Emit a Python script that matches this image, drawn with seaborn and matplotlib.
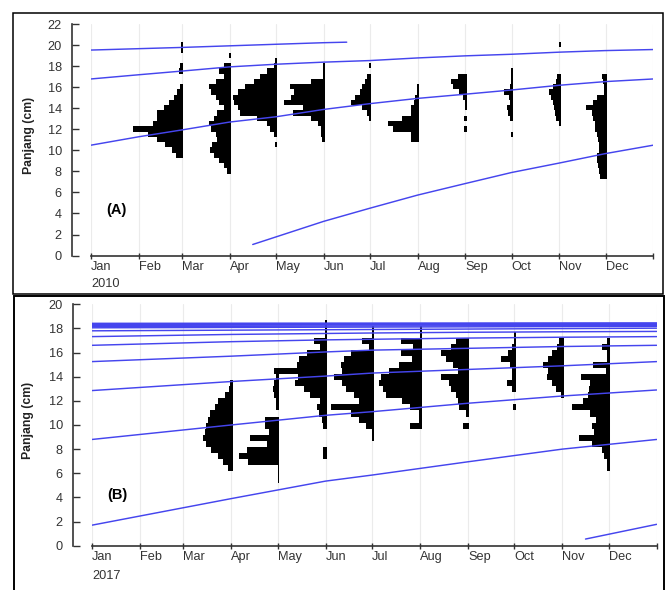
import numpy as np
import pandas as pd
import matplotlib
matplotlib.use("Agg")
import matplotlib.pyplot as plt
from matplotlib.patches import Rectangle
import seaborn as sns

# -----------------------------
# Setup
# -----------------------------
sns.set_theme(style="white")
plt.rcParams["font.family"] = ["Liberation Sans", "DejaVu Sans"]

BLUE = "#4545ee"
INK = "#333333"

MONTHS = ["Jan", "Feb", "Mar", "Apr", "May", "Jun", "Jul", "Aug", "Sep", "Oct", "Nov", "Dec", ""]
MONTH_START = [0, 31, 59, 90, 120, 151, 181, 212, 243, 273, 304, 334, 365]

BIN = 0.5                # length class width (cm)
DAYS_PER_SCORE = 0.647   # bar score -> days on the time axis

# -----------------------------
# Panel A (2010) samples: sample day, lowest class, scores going up in 0.5 cm
# -----------------------------
A_DAYS = [60, 91, 121, 152, 182, 213, 244, 274, 305, 335]
A_START = [9.3, 7.8, 10.3, 10.8, 12.8, 10.8, 11.8, 11.3, 12.3, 7.3]
A_MAR = [7, 11, 18, 26, 36, 51, 31, 26, 26, 19, 14, 9, 6, 3, 0, 0, 4, 3, 0, 0, 2, 2]
A_APR = [4, 7, 12, 17, 21, 19, 14, 15, 20, 22, 17, 14, 7, 12, 15, 20, 22, 15, 7, 12, 7, 0, 2]
A_MAY = [2, 0, 3, 7, 10, 20, 38, 40, 44, 45, 40, 32, 23, 17, 10, 3, 2]
A_JUN = [3, 4, 4, 7, 14, 32, 22, 41, 34, 31, 35, 14, 2, 2, 2]
A_JUL = [2, 4, 9, 20, 16, 11, 9, 6, 4, 0, 2]
A_AUG = [8, 8, 26, 31, 17, 8, 8, 5, 4, 2, 2]
A_SEP = [3, 0, 3, 0, 2, 2, 4, 8, 14, 16, 9]
A_OCT = [2, 0, 0, 3, 5, 6, 3, 4, 9, 3, 2, 2, 2]
A_NOV = [2, 5, 6, 7, 8, 10, 12, 8, 5, 4, 0, 0, 0, 0, 0, 2]
A_DEC = [7, 8, 9, 10, 10, 8, 8, 9, 10, 12, 12, 14, 15, 21, 14, 10, 3, 3, 4, 5]
A_SCORES = [A_MAR, A_APR, A_MAY, A_JUN, A_JUL, A_AUG, A_SEP, A_OCT, A_NOV, A_DEC]

# growth curves
A_C1_DAYS = [0, 59, 120, 151, 166]
A_C1_LEN = [19.55, 19.8, 20.1, 20.25, 20.3]
A_C2_LEN = [16.8, 17.2, 17.55, 17.95, 18.2, 18.4, 18.55, 18.8, 19.0, 19.15, 19.35, 19.5, 19.6]
A_C3_LEN = [10.5, 11.3, 11.95, 12.7, 13.2, 13.9, 14.45, 14.95, 15.35, 15.75, 16.2, 16.55, 16.8]
A_C4_DAYS = [105, 151, 181, 212, 243, 273, 304, 334, 365]
A_C4_LEN = [1.05, 3.25, 4.5, 5.75, 6.85, 7.9, 8.8, 9.7, 10.5]

# -----------------------------
# Panel B (2017) samples
# -----------------------------
B_DAYS = [91, 121, 152, 182, 213, 244, 274, 305, 335]
B_START = [6.2, 5.2, 7.2, 8.7, 9.7, 9.7, 11.2, 12.2, 6.2]
B_APR = [5, 10, 15, 22, 27, 30, 28, 27, 25, 23, 18, 15, 8, 4, 3]
B_MAY = [1.5, 1.5, 1.5, 31, 40, 32, 12, 29, 10, 14, 14, 0, 3, 3, 5, 6, 5, 3, 2]
B_JUN = [4, 4, 0, 0, 0, 4, 5, 8, 10, 7, 17, 23, 32, 29, 53, 30, 28, 20, 7, 13, 2, 2, 2]
B_JUL = [2, 2, 8, 15, 23, 43, 15, 20, 28, 32, 40, 32, 33, 30, 23, 5, 12, 2, 2]
B_AUG = [12, 3, 3, 12, 19, 35, 38, 42, 40, 32, 22, 10, 20, 9, 20, 2, 2]
B_SEP = [6, 0, 3, 10, 11, 13, 18, 20, 28, 11, 16, 23, 28, 18, 13]
B_OCT = [3, 0, 0, 4, 9, 4, 4, 6, 15, 8, 4, 2, 2]
B_NOV = [3, 8, 12, 17, 16, 21, 16, 12, 7, 5]
B_DEC = [3, 3, 6, 8, 18, 31, 16, 18, 14, 20, 38, 27, 22, 21, 20, 29, 4, 17, 3, 3, 8, 3]
B_SCORES = [B_APR, B_MAY, B_JUN, B_JUL, B_AUG, B_SEP, B_OCT, B_NOV, B_DEC]

# growth curves
B_CURVE_DAYS = [0, 90, 151, 181, 243, 304, 365]
B_C1_LEN = [1.7, 3.9, 5.35, 5.85, 6.95, 8.0, 8.8]
B_C2_LEN = [8.8, 10.0, 10.8, 11.1, 11.8, 12.4, 12.9]
B_C3_LEN = [12.85, 13.6, 14.05, 14.3, 14.6, 14.9, 15.25]
B_C4_LEN = [15.25, 15.7, 16.05, 16.2, 16.35, 16.5, 16.6]
B_C5_LEN = [16.6, 16.9, 17.05, 17.1, 17.2, 17.27, 17.32]
B_C6_LEN = [17.32, 17.5, 17.58, 17.62, 17.68, 17.72, 17.75]
B_TOP_START = [17.8, 18.05, 18.15, 18.25, 18.32, 18.38, 18.42]
B_TOP_END = [18.02, 18.17, 18.25, 18.32, 18.38, 18.42, 18.45]
B_C0_DAYS = [319, 365]
B_C0_LEN = [0.55, 1.77]


def curves_frame(curves):
    rows = []
    for i, (days, lens) in enumerate(curves):
        for d, l in zip(days, lens):
            rows.append({"curve": i, "day": d, "length": l})
    return pd.DataFrame(rows)


def draw_panel(ax, days, starts, scores, curves, ymax, label, year, label_y, ylab_x):
    # histograms hang to the left of each sampling date
    for day, start, sc in zip(days, starts, scores):
        lengths = start + BIN * np.arange(len(sc))
        widths = np.array(sc) * DAYS_PER_SCORE
        ax.barh(lengths, -widths, left=day, height=BIN, align="edge",
                color="black", linewidth=0, zorder=2)

    df = curves_frame(curves)
    sns.lineplot(data=df, x="day", y="length", units="curve", estimator=None,
                 sort=False, color=BLUE, linewidth=1.05, ax=ax, zorder=3)

    ax.set_xlim(0, 365)
    ax.set_ylim(0, ymax)
    ax.set_xticks(MONTH_START)
    ax.set_xticklabels(MONTHS, ha="left")
    ax.set_yticks(range(0, ymax + 1, 2))
    ax.grid(axis="x", color="#ebebeb", linewidth=0.8)
    ax.set_axisbelow(True)

    sns.despine(ax=ax)
    ax.spines["left"].set_position(("outward", 14))
    for s in ["left", "bottom"]:
        ax.spines[s].set_color(INK)
        ax.spines[s].set_linewidth(1.2)

    ax.tick_params(axis="x", direction="inout", length=5, width=1, color=INK,
                   labelsize=9.2, labelcolor=INK, pad=1.5, bottom=True)
    ax.tick_params(axis="y", direction="in", length=4.8, width=1, color=INK,
                   labelsize=9.2, labelcolor=INK, pad=7, left=True)

    ax.set_xlabel("")
    ax.set_ylabel("Panjang (cm)", fontsize=8.8, fontweight="bold", color="#222222")
    ax.yaxis.set_label_coords(ylab_x, 0.52)

    ax.text(10, label_y, label, fontsize=10.5, fontweight="bold", color="black",
            va="center", ha="left")
    ax.text(0, -0.125, year, transform=ax.transAxes, fontsize=9.2, color=INK,
            va="center", ha="left")


fig = plt.figure(figsize=(6.66, 5.90), dpi=100)

ax_a = fig.add_axes([0.1366, 0.5669, 0.8443, 0.3919])
curves_a = [
    (A_C1_DAYS, A_C1_LEN),
    (MONTH_START, A_C2_LEN),
    (MONTH_START, A_C3_LEN),
    (A_C4_DAYS, A_C4_LEN),
]
draw_panel(ax_a, A_DAYS, A_START, A_SCORES, curves_a, 22, "(A)", "2010", 4.35, -0.100)

ax_b = fig.add_axes([0.1381, 0.0751, 0.8479, 0.4092])
curves_b = [
    (B_CURVE_DAYS, B_C1_LEN),
    (B_CURVE_DAYS, B_C2_LEN),
    (B_CURVE_DAYS, B_C3_LEN),
    (B_CURVE_DAYS, B_C4_LEN),
    (B_CURVE_DAYS, B_C5_LEN),
    (B_CURVE_DAYS, B_C6_LEN),
    (B_C0_DAYS, B_C0_LEN),
]
for s, e in zip(B_TOP_START, B_TOP_END):
    curves_b.append(([0, 365], [s, e]))
draw_panel(ax_b, B_DAYS, B_START, B_SCORES, curves_b, 20, "(B)", "2017", 4.2, -0.102)

# panel frames
fig.add_artist(Rectangle((0.020, 0.502), 0.9755, 0.4755, transform=fig.transFigure,
                         fill=False, edgecolor="black", linewidth=1.1))
fig.add_artist(Rectangle((0.0205, -0.01), 0.977, 0.5075, transform=fig.transFigure,
                         fill=False, edgecolor="black", linewidth=1.4))

fig.savefig("out.png", dpi=100)
